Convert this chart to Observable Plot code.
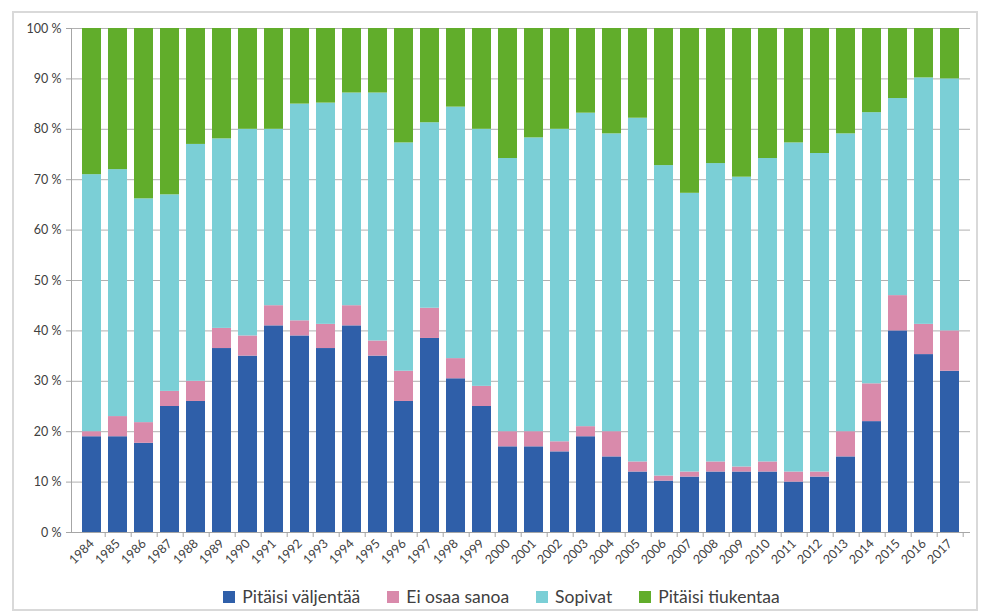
<!DOCTYPE html>
<html>
<head>
<meta charset="utf-8">
<script src="https://cdn.jsdelivr.net/npm/d3@7"></script>
<script src="https://cdn.jsdelivr.net/npm/@observablehq/plot@0.6"></script>
<style>
  html, body { margin: 0; padding: 0; background: #fff; }
  body { width: 989px; height: 615px; position: relative; overflow: hidden; font-family: Lato, "Open Sans", sans-serif; }
  #frame { position: absolute; left: 12px; top: 11px; width: 962px; height: 596px; border: 2px solid #d9d9d9; }
  #chart { position: absolute; left: 0; top: 0; }
  #legend { position: absolute; left: 0; top: 586px; width: 989px; display: flex; justify-content: center; gap: 27px; font-size: 17.5px; color: #404040; padding-left: 14px; box-sizing: border-box; }
  #legend .item { display: flex; align-items: center; gap: 7px; }
  #legend .sw { width: 12px; height: 12px; display: inline-block; }
</style>
</head>
<body>
<div id="frame"></div>
<div id="chart"></div>
<div id="legend"></div>
<script>
const years = [1984,1985,1986,1987,1988,1989,1990,1991,1992,1993,1994,1995,1996,1997,1998,1999,2000,2001,2002,2003,2004,2005,2006,2007,2008,2009,2010,2011,2012,2013,2014,2015,2016,2017];
const seriesNames = ["Pitäisi väljentää", "Ei osaa sanoa", "Sopivat", "Pitäisi tiukentaa"];
const seriesColors = ["#2f5fa9", "#d98aab", "#7bcfd6", "#61ad2b"];
const valjentaa = [19,19,17.7,25,26,36.5,35,41,39,36.5,41,35,26,38.5,30.5,25,17,17,16,19,15,12,10.2,11,12,12,12,10,11,15,22,40,35.3,32];
const eiOsaa    = [1,4,4.1,3,4,4,4,4,3,4.8,4,3,6,6,4,4,3,3,2,2,5,2,1,1,2,1,2,2,1,5,7.5,7,6,8];
const sopivat   = [51,49,44.4,39,47,37.6,41,35,43,43.9,42.2,49.2,45.3,36.8,49.9,51,54.2,58.3,62,62.2,59.1,68.2,61.6,55.3,59.2,57.5,60.2,65.3,63.2,59.1,53.8,39.1,48.9,50];
const tiukentaa = [29,28,33.8,33,23,21.9,20,20,15,14.8,12.8,12.8,22.7,18.7,15.6,20,25.8,21.7,20,16.8,20.9,17.8,27.2,32.7,26.8,29.5,25.8,22.7,24.8,20.9,16.7,13.9,9.8,10];
const yTicks = [0,0.1,0.2,0.3,0.4,0.5,0.6,0.7,0.8,0.9,1];

const seriesValues = [valjentaa, eiOsaa, sopivat, tiukentaa];
const data = seriesNames.flatMap((name, i) => years.map((year, j) => ({year, series: name, value: seriesValues[i][j]})));

const chart = Plot.plot({
  width: 989,
  height: 580,
  marginLeft: 71,
  marginRight: 19,
  marginTop: 28,
  marginBottom: 48,
  style: { fontFamily: "Lato, 'Open Sans', sans-serif", fontSize: "12px", color: "#404040", background: "transparent" },
  x: { type: "band", domain: years, paddingInner: 0.28, paddingOuter: 0.14, label: null },
  y: { domain: [0, 1], label: null },
  color: { domain: seriesNames, range: seriesColors },
  marks: [
    Plot.gridY(yTicks, { stroke: "#b0b0b0", strokeOpacity: 1 }),
    Plot.barY(data, Plot.stackY({ offset: "normalize", order: null }, { x: "year", y: "value", fill: "series" })),
    Plot.ruleY([0], { stroke: "#a6a6a6" }),
    Plot.frame({ anchor: "left", stroke: "#a6a6a6" }),
    Plot.axisY(yTicks, { tickSize: 5, tickPadding: 5, stroke: "#a6a6a6", tickFormat: d => `${Math.round(d * 100)} %`, fill: "#404040", fontSize: 12.5 }),
    Plot.axisX({ tickSize: 0, tickPadding: 9, tickRotate: -45, tickFormat: d => String(d), fill: "#404040", fontSize: 12.5 }),
    Plot.axisX({ tickSize: 5, tickFormat: () => "", stroke: "#a6a6a6", dx: 13.2 })
  ]
});
document.getElementById("chart").appendChild(chart);

const legend = document.getElementById("legend");
seriesNames.forEach((name, i) => {
  const item = document.createElement("span");
  item.className = "item";
  const sw = document.createElement("span");
  sw.className = "sw";
  sw.style.background = seriesColors[i];
  const label = document.createElement("span");
  label.textContent = name;
  item.appendChild(sw);
  item.appendChild(label);
  legend.appendChild(item);
});
</script>
</body>
</html>
